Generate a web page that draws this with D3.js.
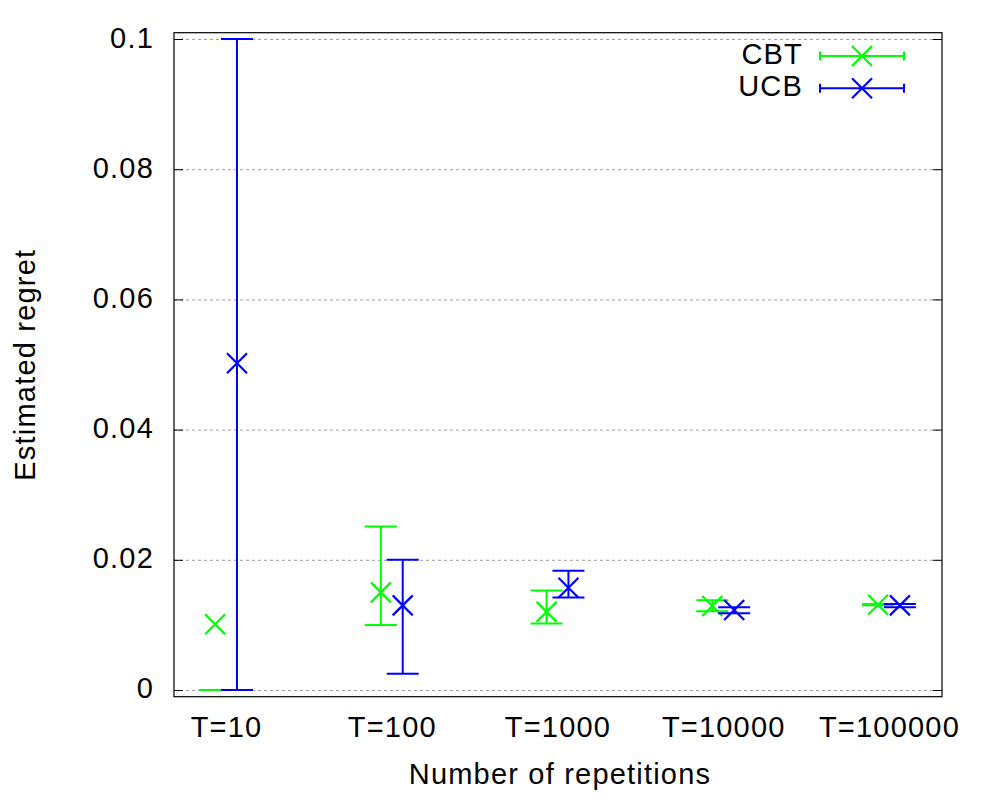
<!DOCTYPE html>
<html lang="en">
<head>
    <meta charset="UTF-8">
    <title>Estimated regret</title>
    <style>
        body { margin: 0; background: #fff; }
        text { font-family: "Liberation Sans", Arial, sans-serif; font-size: 29px; letter-spacing: 1.2px; fill: #000; }
    </style>
</head>
<body>
<div id="graph"></div>

<script src="https://cdnjs.cloudflare.com/ajax/libs/d3/7.8.5/d3.min.js"></script>

<script>
    // data
    const categories = ["T=10", "T=100", "T=1000", "T=10000", "T=100000"];

    const cbtMean = [0.0101, 0.0150, 0.0120, 0.0129, 0.0131];
    const cbtLow  = [0.0000, 0.0100, 0.0102, 0.0121, 0.0130];
    const cbtHigh = [0.0000, 0.0251, 0.0153, 0.0138, 0.0132];

    const ucbMean = [0.0502, 0.0130, 0.0157, 0.0123, 0.0130];
    const ucbLow  = [0.0000, 0.0025, 0.0142, 0.0118, 0.0127];
    const ucbHigh = [0.1000, 0.0200, 0.0183, 0.0127, 0.0132];

    const yTicks = [0, 0.02, 0.04, 0.06, 0.08, 0.1];
    const yTickLabels = ["0", "0.02", "0.04", "0.06", "0.08", "0.1"];

    const seriesNames = ["CBT", "UCB"];

    //config variables
    const width = 1000, height = 800;
    const plot = {left: 174, right: 942, top: 32.7, bottom: 696.7};
    const capHalf = 16;     // half width of the errorbar caps
    const crossHalf = 10;   // half size of the x marker
    const shift = 0.066;    // horizontal offset of each series around the category

    const series = [
        {name: seriesNames[0], color: "#00ff00", mean: cbtMean, low: cbtLow, high: cbtHigh, offset: -shift},
        {name: seriesNames[1], color: "#0000ff", mean: ucbMean, low: ucbLow, high: ucbHigh, offset: shift}
    ];

    const x = d3.scaleLinear().domain([0.686, 5.32]).range([plot.left, plot.right]);
    const y = d3.scaleLinear().domain([-0.00103, 0.10097]).range([plot.bottom, plot.top]);

    const svg = d3.select("#graph")
        .append("svg")
        .attr("width", width)
        .attr("height", height);

    // dashed grid
    svg.append("g")
        .attr("transform", `translate(${plot.left},0)`)
        .call(d3.axisLeft(y).tickValues(yTicks).tickSize(-(plot.right - plot.left)).tickFormat(""))
        .call(g => g.select(".domain").remove())
        .call(g => g.selectAll("line")
            .attr("stroke", "#a0a0a0")
            .attr("stroke-width", 1)
            .attr("stroke-dasharray", "3,3"));

    // left axis with labels, ticks inward
    svg.append("g")
        .attr("transform", `translate(${plot.left},0)`)
        .call(d3.axisLeft(y).tickValues(yTicks).tickSizeInner(-9).tickSizeOuter(0)
            .tickPadding(20).tickFormat((d, i) => yTickLabels[i]))
        .call(g => g.select(".domain").remove())
        .call(g => g.selectAll("line").attr("stroke", "#000"))
        .call(g => g.selectAll("text")
            .attr("font-family", null).attr("font-size", null)
            .attr("dy", 8));

    // right side ticks
    svg.append("g")
        .attr("transform", `translate(${plot.right},0)`)
        .call(d3.axisRight(y).tickValues(yTicks).tickSizeInner(-9).tickSizeOuter(0).tickFormat(""))
        .call(g => g.select(".domain").remove())
        .call(g => g.selectAll("line").attr("stroke", "#000"));

    // bottom category labels
    svg.append("g")
        .attr("transform", `translate(0,${plot.bottom})`)
        .call(d3.axisBottom(x).tickValues(d3.range(1, categories.length + 1)).tickSize(0)
            .tickFormat(d => categories[d - 1]))
        .call(g => g.select(".domain").remove())
        .call(g => g.selectAll("text")
            .attr("font-family", null).attr("font-size", null)
            .attr("dy", null).attr("y", 40));

    // frame
    svg.append("rect")
        .attr("x", plot.left)
        .attr("y", plot.top)
        .attr("width", plot.right - plot.left)
        .attr("height", plot.bottom - plot.top)
        .attr("fill", "none")
        .attr("stroke", "#000")
        .attr("stroke-width", 1.2);

    // errorbars and markers
    function drawCross(g, cx, cy, color) {
        g.append("path")
            .attr("d", `M${cx - crossHalf},${cy - crossHalf}L${cx + crossHalf},${cy + crossHalf}` +
                       `M${cx - crossHalf},${cy + crossHalf}L${cx + crossHalf},${cy - crossHalf}`)
            .attr("stroke", color)
            .attr("stroke-width", 2.2)
            .attr("fill", "none");
    }

    series.forEach(s => {
        const g = svg.append("g").attr("stroke", s.color).attr("stroke-width", 2);
        s.mean.forEach((m, i) => {
            const cx = x(i + 1 + s.offset);
            g.append("line")
                .attr("x1", cx).attr("x2", cx)
                .attr("y1", y(s.low[i])).attr("y2", y(s.high[i]));
            [s.low[i], s.high[i]].forEach(v => {
                g.append("line")
                    .attr("x1", cx - capHalf).attr("x2", cx + capHalf)
                    .attr("y1", y(v)).attr("y2", y(v));
            });
            drawCross(g, cx, y(m), s.color);
        });
    });

    // legend
    const legend = svg.append("g");
    series.forEach((s, i) => {
        const ly = 56 + i * 32.3;
        legend.append("text")
            .attr("x", 803)
            .attr("y", ly + 7.5)
            .attr("text-anchor", "end")
            .text(s.name);
        const lg = legend.append("g").attr("stroke", s.color).attr("stroke-width", 2);
        lg.append("line").attr("x1", 820).attr("x2", 904).attr("y1", ly).attr("y2", ly);
        [820, 904].forEach(ex => {
            lg.append("line").attr("x1", ex).attr("x2", ex).attr("y1", ly - 4.5).attr("y2", ly + 4.5);
        });
        drawCross(lg, 862, ly, s.color);
    });

    // axis titles
    svg.append("text")
        .attr("x", 560)
        .attr("y", 784)
        .attr("text-anchor", "middle")
        .text("Number of repetitions");

    svg.append("text")
        .attr("transform", `translate(35,${(plot.top + plot.bottom) / 2}) rotate(-90)`)
        .attr("text-anchor", "middle")
        .text("Estimated regret");
</script>
</body>
</html>
